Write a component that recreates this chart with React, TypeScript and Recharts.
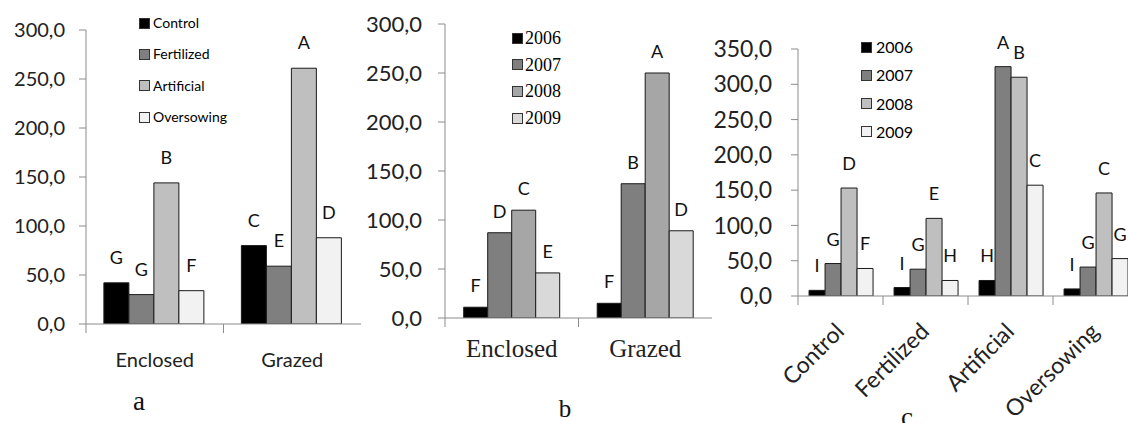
import React from 'react';
import { BarChart, Bar, XAxis, YAxis, Legend, LabelList } from 'recharts';

// ---------- Panel a ----------
const categoriesA = ['Enclosed', 'Grazed'];
const seriesNamesA = ['Control', 'Fertilized', 'Artificial', 'Oversowing'];
const controlA = [42, 80];
const fertilizedA = [30, 59];
const artificialA = [144, 261];
const oversowingA = [34, 88];
const lettersControlA = ['G', 'C'];
const lettersFertilizedA = ['G', 'E'];
const lettersArtificialA = ['B', 'A'];
const lettersOversowingA = ['F', 'D'];
const ticksA = [0, 50, 100, 150, 200, 250, 300];

// ---------- Panel b ----------
const categoriesB = ['Enclosed', 'Grazed'];
const seriesNamesB = ['2006', '2007', '2008', '2009'];
const y2006B = [11, 15];
const y2007B = [87, 137];
const y2008B = [110, 250];
const y2009B = [46, 89];
const letters2006B = ['F', 'F'];
const letters2007B = ['D', 'B'];
const letters2008B = ['C', 'A'];
const letters2009B = ['E', 'D'];
const ticksB = [0, 50, 100, 150, 200, 250, 300];

// ---------- Panel c ----------
const categoriesC = ['Control', 'Fertilized', 'Artificial', 'Oversowing'];
const seriesNamesC = ['2006', '2007', '2008', '2009'];
const y2006C = [8, 12, 22, 10];
const y2007C = [46, 38, 325, 41];
const y2008C = [153, 110, 310, 146];
const y2009C = [39, 22, 157, 53];
const letters2006C = ['I', 'I', 'H', 'I'];
const letters2007C = ['G', 'G', 'A', 'G'];
const letters2008C = ['D', 'E', 'B', 'C'];
const letters2009C = ['F', 'H', 'C', 'G'];
const ticksC = [0, 50, 100, 150, 200, 250, 300, 350];

const coloursA = ['#000000', '#7f7f7f', '#bfbfbf', '#f2f2f2'];
const coloursB = ['#000000', '#7f7f7f', '#a6a6a6', '#d9d9d9'];
const coloursC = ['#000000', '#7f7f7f', '#bfbfbf', '#f2f2f2'];

const buildRows = (cats: string[], vals: number[][], lets: string[][]) =>
  cats.map((c, i) => {
    const row: any = { cat: c };
    vals.forEach((v, k) => { row['s' + k] = v[i]; });
    lets.forEach((l, k) => { row['l' + k] = l[i]; });
    return row;
  });

const dataA = buildRows(categoriesA, [controlA, fertilizedA, artificialA, oversowingA],
  [lettersControlA, lettersFertilizedA, lettersArtificialA, lettersOversowingA]);
const dataB = buildRows(categoriesB, [y2006B, y2007B, y2008B, y2009B],
  [letters2006B, letters2007B, letters2008B, letters2009B]);
const dataC = buildRows(categoriesC, [y2006C, y2007C, y2008C, y2009C],
  [letters2006C, letters2007C, letters2008C, letters2009C]);

const AXIS = '#8c8c8c';
const SANS = 'Lato, "Open Sans", sans-serif';
const SERIF = '"Liberation Serif", "Times New Roman", serif';
const fmt = (v: number) => v.toFixed(1).replace('.', ',');

type PanelCfg = {
  left: number;
  width: number;
  marginLeft: number;
  marginRight: number;
  top: number;
  plotBottom: number;
  data: any[];
  names: string[];
  colours: string[];
  ticks: number[];
  yMax: number;
  yFont: number;
  yMargin: number;
  catGap: string;
  labelOffset: number;
  labelFont: number;
  legend: { left: number; top: number; row: number; font: number; family: string; gap: number };
  tick: (props: any) => any;
};

const Panel = ({ cfg }: { cfg: PanelCfg }) => {
  const height = 423;
  const LegendContent = () => (
    <div style={{ display: 'flex', flexDirection: 'column' }}>
      {cfg.names.map((n, i) => (
        <div key={n} style={{ height: cfg.legend.row, display: 'flex', alignItems: 'center' }}>
          <div style={{ width: 11, height: 11, boxSizing: 'border-box', border: '1px solid #333', background: cfg.colours[i], marginRight: cfg.legend.gap }} />
          <span style={{ fontFamily: cfg.legend.family, fontSize: cfg.legend.font, color: '#000', lineHeight: 1 }}>{n}</span>
        </div>
      ))}
    </div>
  );
  return (
    <div style={{ position: 'absolute', left: cfg.left, top: 0 }}>
      <BarChart
        width={cfg.width}
        height={height}
        data={cfg.data}
        margin={{ top: cfg.top, right: cfg.marginRight, bottom: 0, left: cfg.marginLeft }}
        barCategoryGap={cfg.catGap}
        barGap={0}
      >
        <XAxis
          dataKey="cat"
          interval={0}
          tickSize={0}
          tickMargin={0}
          height={height - cfg.plotBottom}
          axisLine={{ stroke: AXIS }}
          tick={cfg.tick}
        />
        <YAxis
          width={80}
          domain={[0, cfg.yMax]}
          ticks={cfg.ticks}
          tickFormatter={fmt}
          tickSize={7}
          tickMargin={cfg.yMargin}
          axisLine={{ stroke: AXIS }}
          tickLine={{ stroke: AXIS }}
          tick={{ fill: '#222', fontSize: cfg.yFont, fontFamily: SANS }}
          allowDataOverflow
        />
        <Legend
          layout="vertical"
          align="center"
          verticalAlign="middle"
          wrapperStyle={{ left: cfg.legend.left, top: cfg.legend.top, width: 160, height: cfg.legend.row * 4 }}
          content={LegendContent}
        />
        {cfg.names.map((n, i) => (
          <Bar key={n} dataKey={'s' + i} name={n} fill={cfg.colours[i]} stroke="#1a1a1a" strokeWidth={1} isAnimationActive={false}>
            <LabelList dataKey={'l' + i} position="top" offset={cfg.labelOffset} fill="#111" fontSize={cfg.labelFont} fontFamily={SANS} />
          </Bar>
        ))}
      </BarChart>
    </div>
  );
};

const makeTick = (band: number, font: string, size: number, dy: number) => (props: any) => {
  const { x, y, payload } = props;
  const left = x - band / 2;
  return (
    <g>
      <line x1={left} y1={y} x2={left} y2={y + 9} stroke={AXIS} />
      <text x={x} y={y + dy} textAnchor="middle" fontFamily={font} fontSize={size} fill="#222">{payload.value}</text>
    </g>
  );
};

const makeRotTick = (band: number, size: number) => (props: any) => {
  const { x, y, payload } = props;
  const left = x - band / 2;
  const ax = x + 5;
  const ay = y + 37;
  return (
    <g>
      <line x1={left} y1={y} x2={left} y2={y + 9} stroke={AXIS} />
      <text x={ax} y={ay} textAnchor="end" fontFamily={SANS} fontSize={size} fill="#222" transform={`rotate(-45, ${ax}, ${ay})`}>{payload.value}</text>
    </g>
  );
};

// layout: a plot 86..361, b plot 445..712, c plot 798..1138
const cfgA: PanelCfg = {
  left: 0, width: 370, marginLeft: 6, marginRight: 9, top: 30, plotBottom: 324,
  data: dataA, names: seriesNamesA, colours: coloursA, ticks: ticksA, yMax: 300,
  yFont: 20, yMargin: 14, catGap: '13%', labelOffset: 19, labelFont: 18,
  legend: { left: 139, top: 7.5, row: 31.3, font: 14, family: SANS, gap: 3 },
  tick: makeTick(275 / 2, SANS, 20, 43),
};
const cfgB: PanelCfg = {
  left: 360, width: 354, marginLeft: 5, marginRight: 2, top: 24, plotBottom: 318,
  data: dataB, names: seriesNamesB, colours: coloursB, ticks: ticksB, yMax: 300,
  yFont: 22, yMargin: 16, catGap: '14%', labelOffset: 15, labelFont: 18,
  legend: { left: 152, top: 24.7, row: 26.7, font: 18, family: SERIF, gap: 2 },
  tick: makeTick(267 / 2, SERIF, 25, 39),
};
const cfgC: PanelCfg = {
  left: 710, width: 430, marginLeft: 8, marginRight: 2, top: 49, plotBottom: 296,
  data: dataC, names: seriesNamesC, colours: coloursC, ticks: ticksC, yMax: 350,
  yFont: 23, yMargin: 19, catGap: '13%', labelOffset: 18, labelFont: 18,
  legend: { left: 151, top: 32.9, row: 28.3, font: 16, family: SANS, gap: 4 },
  tick: makeRotTick(340 / 4, 23),
};

export default function App() {
  return (
    <div style={{ position: 'absolute', left: 0, top: 0, width: 1128, height: 423, overflow: 'hidden', background: '#fff' }}>
      <Panel cfg={cfgA} />
      <Panel cfg={cfgB} />
      <Panel cfg={cfgC} />
      <svg width={1128} height={423} style={{ position: 'absolute', left: 0, top: 0, pointerEvents: 'none' }}>
        <text x={139} y={410} textAnchor="middle" fontFamily={SERIF} fontSize={27} fill="#111">a</text>
        <text x={565} y={417} textAnchor="middle" fontFamily={SERIF} fontSize={25} fill="#111">b</text>
        <text x={907} y={426} textAnchor="middle" fontFamily={SERIF} fontSize={27} fill="#111">c</text>
      </svg>
    </div>
  );
}
